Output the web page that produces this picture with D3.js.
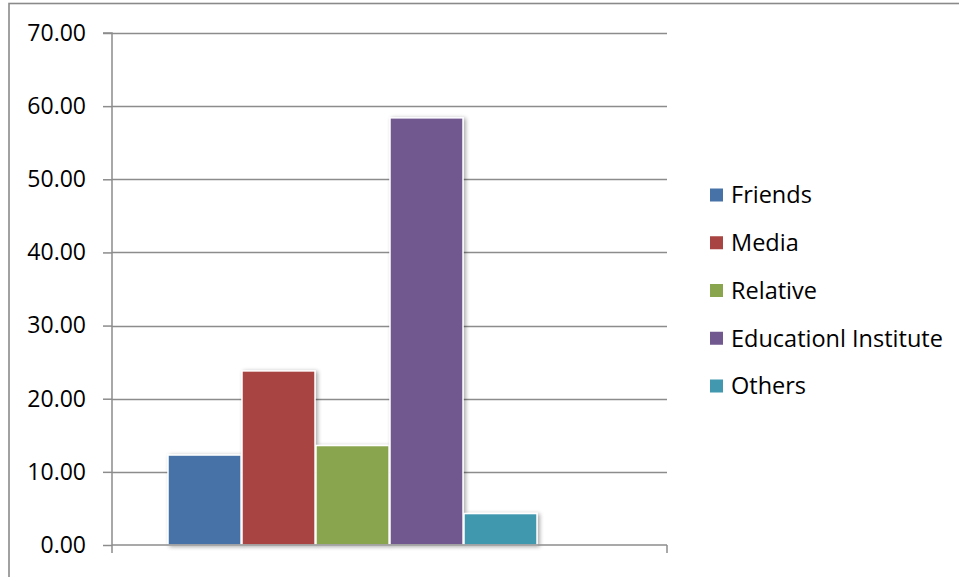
<!DOCTYPE html>
<html><head><meta charset="utf-8">
<script src="https://cdn.jsdelivr.net/npm/d3@7"></script>
<style>
html,body{margin:0;padding:0;background:#fff;}
svg{display:block;font-family:"Open Sans",sans-serif;}
</style></head>
<body>
<svg id="chart" width="959" height="577"></svg>
<script>
const series = ["Friends","Media","Relative","Educationl Institute","Others"];
const values = [12.3, 23.8, 13.6, 58.4, 4.3];
const colors = ["#4672A8","#A84442","#89A54E","#71588F","#4198AF"];
const yTicks = [0,10,20,30,40,50,60,70];
const category = [""];
const seriesSlots = 6; // chart reserves one empty series slot

const svg = d3.select("#chart");
const W = 959, H = 577;
const plot = {left:112, right:667, top:33, bottom:545};

// outer frame
svg.append("rect").attr("x",9).attr("y",3.5).attr("width",W).attr("height",H)
  .attr("fill","#fff").attr("stroke","#8a8a8a").attr("stroke-width",1.6);

const defs = svg.append("defs");
const f = defs.append("filter").attr("id","sh").attr("x","-20%").attr("y","-20%").attr("width","140%").attr("height","140%");
f.append("feGaussianBlur").attr("in","SourceAlpha").attr("stdDeviation",2.2).attr("result","b");
f.append("feOffset").attr("in","b").attr("dx",1.5).attr("dy",0.5).attr("result","o");
f.append("feComponentTransfer").attr("in","o").attr("result","o2")
  .append("feFuncA").attr("type","linear").attr("slope",0.35);
const fm = f.append("feMerge");
fm.append("feMergeNode").attr("in","o2");
fm.append("feMergeNode").attr("in","SourceGraphic");

const y = d3.scaleLinear().domain([0,70]).range([plot.bottom, plot.top]);
const x0 = d3.scaleBand().domain(category).range([plot.left, plot.right]);
// Excel gap width 150%: category width = slots*w + 1.5w
const catX = x0(category[0]), catW = x0.bandwidth();
const barW = catW / (seriesSlots + 1.5);
const groupStart = catX + 0.75*barW;
const xb = d3.scaleBand().domain(d3.range(seriesSlots)).range([groupStart, groupStart + seriesSlots*barW]).padding(0);

// gridlines
svg.append("g").selectAll("line").data(yTicks.filter(d=>d>0)).join("line")
  .attr("x1",plot.left).attr("x2",plot.right)
  .attr("y1",d=>Math.round(y(d))+0.5).attr("y2",d=>Math.round(y(d))+0.5)
  .attr("stroke","#8c8c8c").attr("stroke-width",1.5);

// y axis
const yAxis = d3.axisLeft(y).tickValues(yTicks).tickFormat(d3.format(".2f")).tickSize(9).tickPadding(17);
const ga = svg.append("g").attr("transform",`translate(${plot.left},0)`).call(yAxis);
ga.select(".domain").attr("stroke","#8c8c8c").attr("stroke-width",1.5).attr("d",`M-9,${plot.top}H0V${plot.bottom}`);
ga.selectAll(".tick line").attr("stroke","#8c8c8c").attr("stroke-width",1.5);
ga.selectAll(".tick text").attr("font-size",23).attr("fill","#000").attr("font-family","'Open Sans',sans-serif");

// bars
svg.append("g").selectAll("rect").data(values).join("rect")
  .attr("x",(d,i)=>xb(i)+0.5).attr("width",xb.bandwidth()-1)
  .attr("y",d=>y(d)).attr("height",d=>y(0)-y(d))
  .attr("fill",(d,i)=>colors[i]).attr("stroke","#fff").attr("stroke-width",1.5)
  .attr("filter","url(#sh)");

// x axis baseline with end ticks
const gx = svg.append("g");
gx.append("line").attr("x1",plot.left).attr("x2",plot.right).attr("y1",plot.bottom).attr("y2",plot.bottom)
  .attr("stroke","#8c8c8c").attr("stroke-width",1.5);
gx.selectAll("line.t").data([plot.left, plot.right]).join("line").attr("class","t")
  .attr("x1",d=>d).attr("x2",d=>d).attr("y1",plot.bottom).attr("y2",plot.bottom+8)
  .attr("stroke","#8c8c8c").attr("stroke-width",1.5);

// legend
const lg = svg.append("g");
const ly = d3.scalePoint().domain(series).range([195,386]);
const items = lg.selectAll("g").data(series).join("g")
  .attr("transform",d=>`translate(710,${ly(d)})`);
items.append("rect").attr("x",0).attr("y",-6.5).attr("width",13).attr("height",13)
  .attr("fill",(d,i)=>colors[i]);
items.append("text").attr("x",21).attr("y",0).attr("dy","0.36em")
  .attr("font-size",23.5).attr("fill","#000").text(d=>d);
</script>
</body></html>
